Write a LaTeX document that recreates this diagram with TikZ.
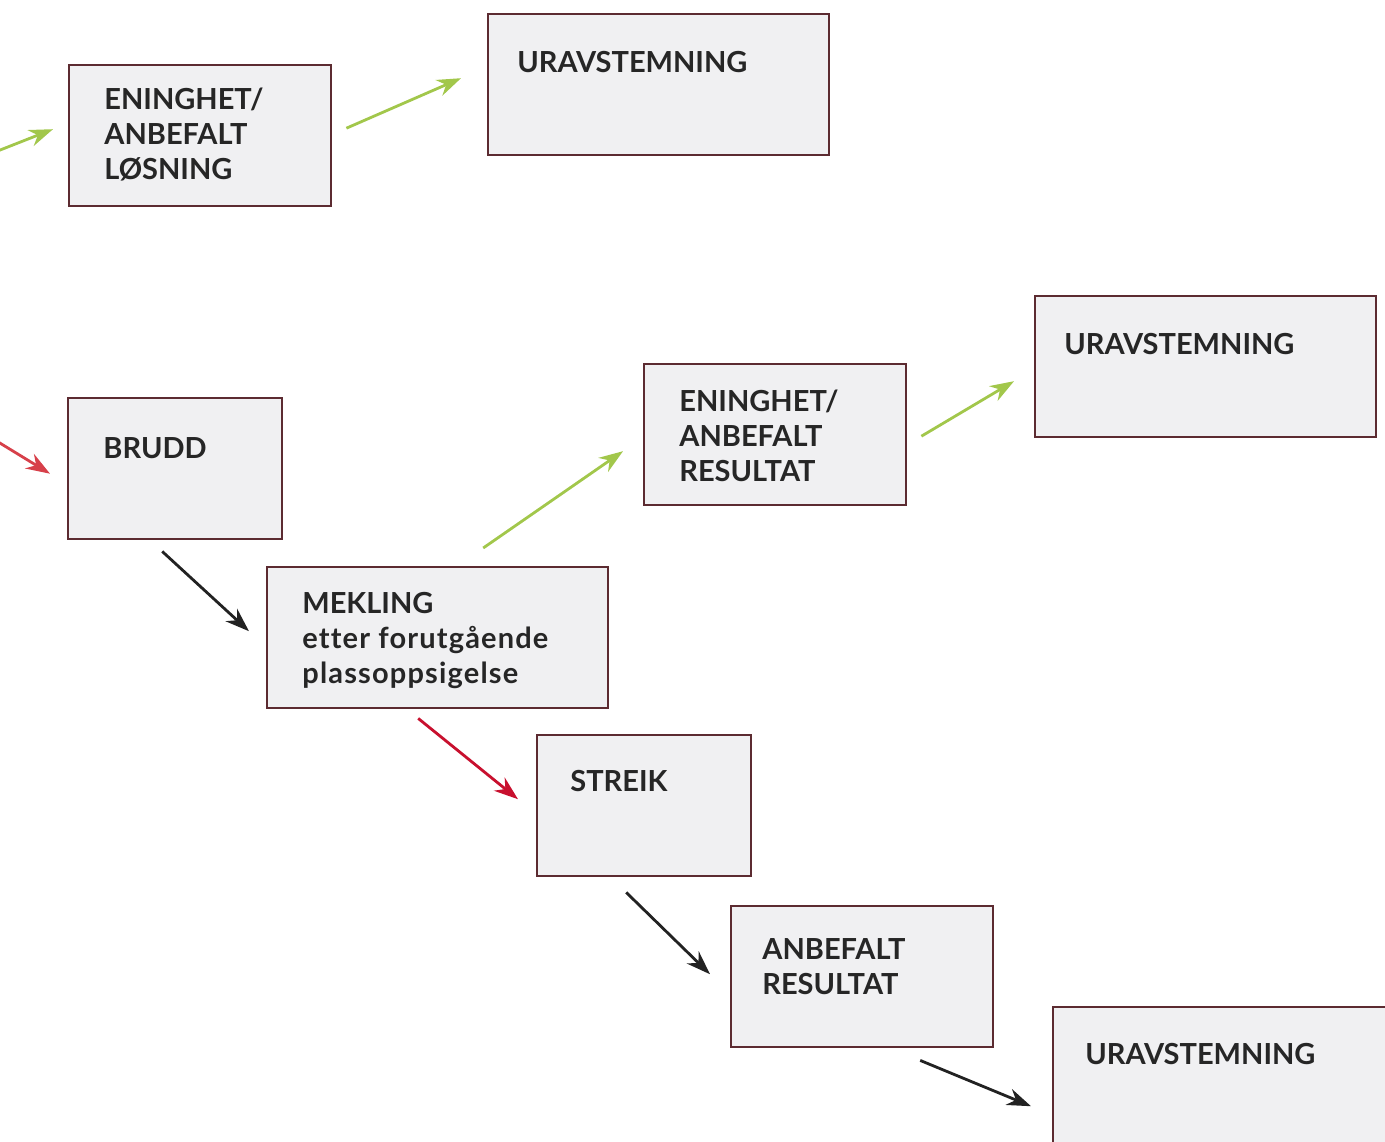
\documentclass[tikz,border=0pt]{standalone}
\usepackage{fontspec}
\setmainfont{Lato}[Ligatures=NoCommon]
\newfontfamily\widefont{Lato}[Ligatures=NoCommon, LetterSpace=4]
\usetikzlibrary{arrows.meta}

\definecolor{boxline}{HTML}{5C2B31}
\definecolor{boxfill}{HTML}{F0F0F2}
\definecolor{textcol}{HTML}{262626}
\definecolor{okgreen}{HTML}{A2C74B}
\definecolor{breakred}{HTML}{D7404A}
\definecolor{strikered}{HTML}{C8102E}
\definecolor{stepblack}{HTML}{222222}

\tikzset{
    box/.style={draw=boxline, fill=boxfill, line width=1.2pt, anchor=north west,
        inner sep=0pt, minimum height=70.5pt},
    lbl/.style={anchor=north west, inner sep=0pt, align=left, text=textcol,
        font=\bfseries\fontsize{14.5}{17.5}\selectfont},
    flow/.style={-{Stealth[length=12pt,width=8.5pt]}, line width=1.4pt},
}

\begin{document}
\begin{tikzpicture}[x=0.5pt, y=-0.5pt]
    \useasboundingbox (0,0) rectangle (1385,1141);

    % boxes: name / left / top / width
    \foreach \n/\x/\y/\w in {los/68/64/262, urav1/487/13/341, brudd/67/397/214,
                             res/643/363/262, urav2/1034/295/341, mek/266/566/341,
                             streik/536/734/214, anb/730/905/262, urav3/1052/1006/341} {
        \node[box, minimum width=\w*0.5pt] (\n) at (\x,\y) {};
    }

    \node[lbl] (t-los) at ([shift={(36,24)}]los.north west) {ENINGHET/\\ANBEFALT\\LØSNING};
    \node[lbl] (t-urav1) at ([shift={(30,38)}]urav1.north west) {URAVSTEMNING};
    \node[lbl] (t-brudd) at ([shift={(36,40)}]brudd.north west) {BRUDD};
    \node[lbl] (t-res) at ([shift={(36,27)}]res.north west) {ENINGHET/\\ANBEFALT\\RESULTAT};
    \node[lbl] (t-urav2) at ([shift={(30,38)}]urav2.north west) {URAVSTEMNING};
    \node[lbl] (t-mek) at ([shift={(36,26)}]mek.north west)
        {MEKLING\\{\widefont\bfseries etter forutgående}\\{\widefont\bfseries plassoppsigelse}};
    \node[lbl] (t-streik) at ([shift={(34,36)}]streik.north west) {STREIK};
    \node[lbl] (t-anb) at ([shift={(32,33)}]anb.north west) {ANBEFALT\\RESULTAT};
    \node[lbl] (t-urav3) at ([shift={(33,37)}]urav3.north west) {URAVSTEMNING};

    % incoming from the left edge
    \coordinate (in-los) at (-10,154);
    \coordinate (in-brudd) at (-10,437);

    \draw[flow, okgreen] (in-los) -- ([shift={(-15,-6.5)}]los.west);
    \draw[flow, okgreen] ([shift={(14,-7.5)}]los.east) -- ([shift={(-26,-6.5)}]urav1.west);
    \draw[flow, breakred] (in-brudd) -- ([shift={(-17,5)}]brudd.west);
    \draw[flow, stepblack] ([shift={(-13,11)}]brudd.south) -- ([shift={(-17,-6.5)}]mek.west);
    \draw[flow, okgreen] ([shift={(45.5,-18)}]mek.north) -- ([shift={(-20,16.5)}]res.west);
    \draw[flow, okgreen] ([shift={(14,1.5)}]res.east) -- ([shift={(-20,14.5)}]urav2.west);
    \draw[flow, strikered] ([shift={(-19.5,9)}]mek.south) -- ([shift={(-18,-6.5)}]streik.west);
    \draw[flow, stepblack] ([shift={(-18,15)}]streik.south) -- ([shift={(-20,-2.5)}]anb.west);
    \draw[flow, stepblack] ([shift={(58,12)}]anb.south) -- ([shift={(-21,28.5)}]urav3.west);
\end{tikzpicture}
\end{document}
